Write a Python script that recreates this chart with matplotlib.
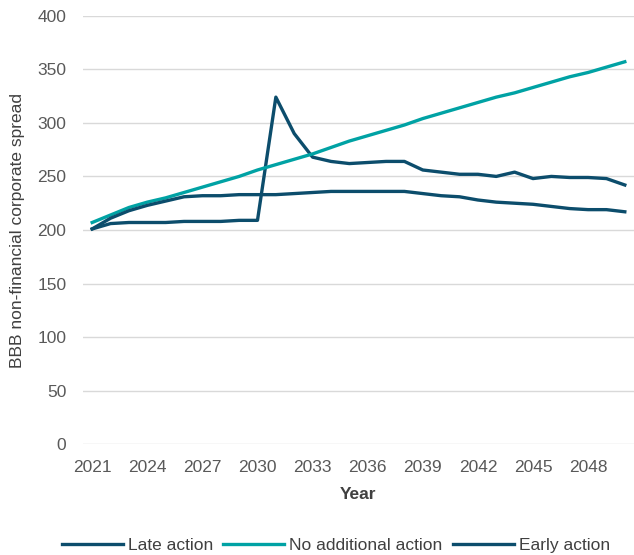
import matplotlib
matplotlib.use("Agg")
import matplotlib.pyplot as plt

years = list(range(2021, 2051))
late_action = [201, 206, 207, 207, 207, 208, 208, 208, 209, 209,
               324, 290, 268, 264, 262, 263, 264, 264, 256, 254,
               252, 252, 250, 254, 248, 250, 249, 249, 248, 242]
no_additional_action = [207, 214, 221, 226, 230, 235, 240, 245, 250, 256,
                        261, 266, 271, 277, 283, 288, 293, 298, 304, 309,
                        314, 319, 324, 328, 333, 338, 343, 347, 352, 357]
early_action = [201, 211, 218, 223, 227, 231, 232, 232, 233, 233,
                233, 234, 235, 236, 236, 236, 236, 236, 234, 232,
                231, 228, 226, 225, 224, 222, 220, 219, 219, 217]
xtick_years = list(range(2021, 2050, 3))

plt.rcParams['font.family'] = ['Liberation Sans', 'DejaVu Sans']

DARK = '#0c4d6c'
TEAL = '#00a2a4'
FS = 12.5

W, H = 634, 555
fig = plt.figure(figsize=(W / 100, H / 100), dpi=100)
left, right, top, bottom = 83, 634, 15.7, 444.3
ax = fig.add_axes([left / W, 1 - bottom / H, (right - left) / W, (bottom - top) / H])

ax.plot(years, late_action, color=DARK, lw=2.4, label='Late action', solid_joinstyle='round')
ax.plot(years, no_additional_action, color=TEAL, lw=2.4, label='No additional action', solid_joinstyle='round')
ax.plot(years, early_action, color=DARK, lw=2.4, label='Early action', solid_joinstyle='round')

ax.set_xlim(2020.5, 2050.5)
ax.set_ylim(0, 400)
ax.set_yticks(range(0, 401, 50))
ax.set_xticks(xtick_years)
ax.grid(axis='y', color='#d9d9d9', lw=1)
ax.set_axisbelow(True)
for s in ax.spines.values():
    s.set_visible(False)
ax.tick_params(length=0, labelsize=FS, colors='#595959')
ax.tick_params(axis='x', pad=11)
ax.tick_params(axis='y', pad=12)

ax.set_xlabel('Year', fontsize=FS, fontweight='bold', color='#404040', labelpad=9)
ax.set_ylabel('BBB non-financial corporate spread', fontsize=FS, color='#404040', labelpad=9)

leg = fig.legend(handles=ax.get_lines(), loc='center', bbox_to_anchor=(336 / W, 1 - 545 / H), ncol=3,
                 frameon=False, fontsize=FS, handlelength=3.5, handletextpad=0.3, columnspacing=0.6)
for t in leg.get_texts():
    t.set_color('#404040')

fig.savefig('out.png', dpi=100)
